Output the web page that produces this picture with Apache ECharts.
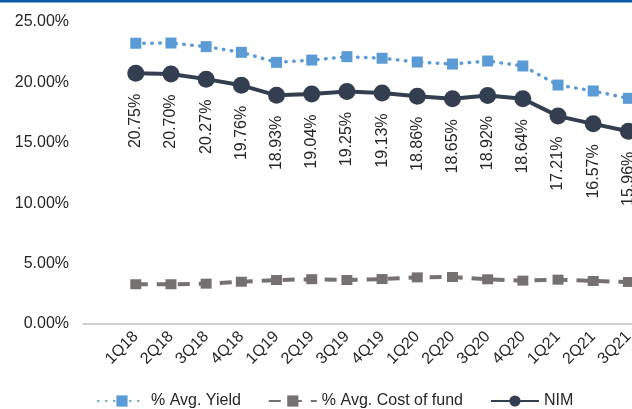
<!DOCTYPE html>
<html>
<head>
<meta charset="utf-8">
<script src="https://cdn.jsdelivr.net/npm/echarts@6/dist/echarts.min.js"></script>
<style>html,body{margin:0;padding:0;background:#fff}#c{width:632px;height:409px}</style>
</head>
<body>
<div id="c"></div>
<script>
const categories = ['', '1Q18','2Q18','3Q18','4Q18','1Q19','2Q19','3Q19','4Q19','1Q20','2Q20','3Q20','4Q20','1Q21','2Q21','3Q21'];
const avgYield = [null, 23.24, 23.26, 22.96, 22.49, 21.66, 21.85, 22.13, 22.00, 21.69, 21.52, 21.77, 21.36, 19.78, 19.29, 18.68];
const costOfFund = [null, 3.29, 3.29, 3.34, 3.50, 3.64, 3.71, 3.64, 3.72, 3.86, 3.89, 3.70, 3.59, 3.67, 3.56, 3.48];
const nim = [null, 20.75, 20.70, 20.27, 19.76, 18.93, 19.04, 19.25, 19.13, 18.86, 18.65, 18.92, 18.64, 17.21, 16.57, 15.96];
const yTicks = [0, 5, 10, 15, 20, 25];

const chart = echarts.init(document.getElementById('c'), null, {renderer: 'canvas'});
const font = 'Liberation Sans, Arial, sans-serif';
chart.setOption({
  animation: false,
  textStyle: {fontFamily: font},
  graphic: [{type: 'rect', shape: {x: 0, y: 0, width: 632, height: 2.5}, style: {fill: '#0E57A3'}}],
  grid: {left: 83, right: -14, top: 22, bottom: 85, containLabel: false, outerBoundsMode: 'none'},
  legend: {
    top: 388, left: 92, itemWidth: 48, itemHeight: 14, itemGap: 27,
    textStyle: {fontSize: 16, color: '#262626', fontFamily: font},
    data: ['% Avg. Yield', '% Avg. Cost of fund', 'NIM']
  },
  xAxis: {
    type: 'category', data: categories, boundaryGap: true,
    axisLine: {lineStyle: {color: '#BFBFBF', width: 1.5}},
    axisTick: {show: false},
    axisLabel: {rotate: 45, fontSize: 16, color: '#262626', margin: 10, interval: 0, fontFamily: font}
  },
  yAxis: {
    type: 'value', min: yTicks[0], max: yTicks[yTicks.length - 1], interval: 5,
    axisLine: {show: false}, axisTick: {show: false}, splitLine: {show: false},
    axisLabel: {fontSize: 16, color: '#262626', margin: 14, fontFamily: font, formatter: v => v.toFixed(2) + '%'}
  },
  series: [
    {
      name: '% Avg. Yield', type: 'line', data: avgYield, symbol: 'rect', symbolSize: 11,
      itemStyle: {color: '#5B9BD5'},
      lineStyle: {color: '#5B9BD5', width: 3.5, type: [0.5, 7.5], cap: 'round'}
    },
    {
      name: '% Avg. Cost of fund', type: 'line', data: costOfFund, symbol: 'rect', symbolSize: [11, 10],
      itemStyle: {color: '#767171'},
      lineStyle: {color: '#767171', width: 4, type: [12, 9]}
    },
    {
      name: 'NIM', type: 'line', data: nim, symbol: 'circle', symbolSize: 17,
      itemStyle: {color: '#333F50'},
      lineStyle: {color: '#333F50', width: 4},
      label: {
        show: true, position: 'bottom', distance: 12, rotate: 90, align: 'right', verticalAlign: 'middle',
        fontSize: 16, color: '#262626', fontFamily: font,
        formatter: p => p.value.toFixed(2) + '%'
      }
    }
  ]
});
</script>
</body>
</html>
